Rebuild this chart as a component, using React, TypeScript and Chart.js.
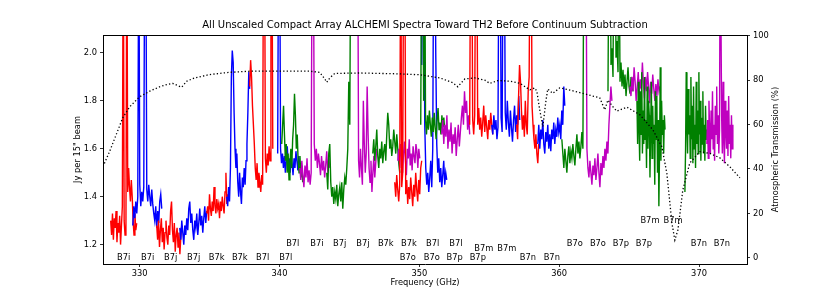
import React, { useEffect, useRef } from "react";
import { Chart, registerables } from "chart.js";

Chart.register(...registerables);

// ---------- DATA ----------
const TITLE = "All Unscaled Compact Array ALCHEMI Spectra Toward TH2 Before Continuum Subtraction";
const X_TITLE = "Frequency (GHz)";
const Y_TITLE = "Jy per 15\" beam";
const Y2_TITLE = "Atmospheric Transmission (%)";

const xTicks = [330, 340, 350, 360, 370];
const yTicks = [1.2, 1.4, 1.6, 1.8, 2.0];
const y2Ticks = [0, 20, 40, 60, 80, 100];

// spectral windows: [start GHz, end GHz]
const red1Range = [327.93, 329.79];
const red1 = [1.30,1.24,1.33,1.22,1.31,1.27,1.34,1.21,1.29,1.25,1.32,1.20,1.28,1.36,2.6,1.30,1.24,1.27,2.6,1.42,1.52,1.44,1.38,1.47,1.40,1.30,1.24,1.33,1.26,1.29];
const blue1Range = [329.51, 331.58];
const blue1 = [1.28,1.36,1.31,1.38,1.33,1.40,2.6,1.45,1.36,1.42,1.38,1.44,2.6,2.6,1.43,1.38,1.45,1.40,1.36,1.43,1.37,1.33,1.30,1.36,1.27,1.34,1.29,1.38,1.41,1.35];
const red2Range = [331.22, 333.01];
const red2 = [1.28,1.22,1.30,1.19,1.26,1.31,1.21,1.27,1.18,1.25,1.30,1.23,1.20,1.28,1.24,1.34,1.38,1.26,1.21,1.29,1.17,1.24,1.27,1.19,1.25,1.16,1.23,1.28];
const blue2Range = [332.87, 334.80];
const blue2 = [1.27,1.22,1.30,1.25,1.20,1.28,1.24,1.31,1.26,1.35,1.38,1.29,1.33,1.26,1.22,1.30,1.27,1.33,1.24,1.29,1.35,1.28,1.32,1.25,1.31,1.36,1.29,1.34];
const red3Range = [334.80, 336.30];
const red3 = [1.33,1.36,1.30,1.41,1.35,1.32,1.38,1.34,1.44,1.36,1.33,1.39,1.35,1.37,1.31,1.38,1.34,1.40,1.36,1.33,1.42,1.50,1.37,1.41];
const blue3Range = [336.23, 337.87];
const blue3 = [1.40,1.36,1.44,1.38,1.52,1.90,2.01,1.96,1.75,1.60,1.52,1.58,1.46,1.40,1.50,1.42,1.37,1.48,1.44,1.52,1.45,1.55,1.62,1.75,1.92,1.85];
const red4Range = [337.87, 339.52];
const red4 = [1.86,1.97,1.90,1.78,1.70,1.62,1.52,1.47,1.54,1.44,1.50,1.46,1.42,1.49,1.45,2.6,2.6,1.56,1.50,1.58,1.53,1.61,1.55,2.6,2.6,1.60];
const blue4Range = [339.87, 341.45];
const blue4 = [1.58,2.6,2.6,1.60,1.54,1.58,1.52,1.57,1.50,1.55,1.61,1.53,1.56,1.50,1.58,1.54,1.49,1.56,1.52,1.59,1.55,1.51,1.57,1.53];
const green1Range = [340.16, 341.66];
const green1 = [1.62,1.70,1.78,1.66,1.55,1.62,1.50,1.58,1.47,1.54,1.60,1.52,1.64,1.70,1.83,1.74,1.60,1.66,1.55,1.50,1.57,1.48,1.53,1.46];
const mag1Range = [341.45, 343.60];
const mag1 = [1.52,1.47,1.55,1.49,1.44,1.53,1.48,1.56,1.46,1.51,1.45,1.50,2.6,2.6,1.62,1.55,1.60,1.52,1.58,1.54,1.49,1.57,1.51,1.55,1.48,1.53,1.59,1.50,1.56,1.52];
const green2Range = [343.38, 345.17];
const green2 = [1.50,1.43,1.58,1.62,1.46,1.40,1.44,1.37,1.42,1.39,1.45,1.36,1.41,1.44,1.38,1.46,1.35,1.43,1.48,1.45,1.52,1.60,1.88,1.70,2.6,2.6];
const mag2Range = [345.52, 346.95];
const mag2 = [2.6,2.6,1.55,1.48,1.60,1.52,1.45,1.80,1.62,1.50,1.58,1.86,1.66,1.52,1.46,1.55,1.42,1.50,1.57,1.48,1.54,1.60];
const green3Range = [346.67, 348.60];
const green3 = [1.58,1.64,1.55,1.61,1.68,1.57,1.52,1.60,1.56,1.63,1.54,1.59,1.62,1.55,1.66,1.75,1.70,1.60,1.64,1.57,1.61,1.68,1.63,1.58,1.66,1.60,1.54,1.50];
const mag3Range = [348.46, 350.03];
const mag3 = [1.55,1.60,1.52,1.62,1.57,1.50,1.58,1.63,1.55,1.49,1.60,1.56,1.64,1.53,1.58,1.51,1.61,1.57,1.54,1.62,1.59,1.52,1.60,1.56];
const red5Range = [348.24, 350.17];
const red5 = [1.46,1.40,1.49,1.43,1.38,1.45,2.6,1.44,1.50,2.6,2.6,1.41,1.47,1.37,1.44,1.39,1.48,1.42,1.36,1.45,1.40,1.50,1.43,1.38,1.47,1.41,1.52,1.55];
const blue5Range = [350.03, 351.96];
const blue5 = [2.6,2.6,1.95,2.6,2.6,1.70,1.52,1.45,1.50,1.42,1.48,1.55,1.44,1.60,2.6,2.6,2.0,1.62,1.50,1.56,1.46,1.52,1.44,1.49,1.55,1.45,1.50,1.47];
const green4Range = [350.10, 351.82];
const green4 = [1.70,2.6,2.6,1.80,2.6,1.72,1.66,1.74,1.68,1.76,1.70,1.65,1.73,1.67,1.75,1.69,1.64,1.72,1.77,1.68,1.71,1.66,1.74,1.69,1.73,1.67];
const mag4Range = [351.60, 353.60];
const mag4 = [1.66,1.72,1.62,1.70,1.65,1.74,1.60,1.68,1.63,1.71,1.58,1.66,1.62,1.69,1.57,1.64,1.70,1.61,1.67,1.73,1.78,1.70,1.84,1.75,1.80,1.68,1.74,1.66];
const red6Range = [353.60, 355.25];
const red6 = [1.70,2.6,2.6,1.72,1.66,1.74,2.6,2.6,1.70,1.77,1.68,1.73,1.65,1.71,1.78,1.67,1.74,1.69,1.64,1.72,1.68,1.75,1.70,1.66];
const blue6Range = [355.18, 357.18];
const blue6 = [1.70,1.66,1.74,1.68,1.72,1.64,1.69,2.6,2.6,1.73,1.67,2.6,2.6,1.75,1.68,1.80,1.71,1.65,1.76,1.69,1.63,1.72,1.78,1.67,1.74,1.70,1.82,1.72];
const red7Range = [356.96, 358.54];
const red7 = [1.70,1.64,1.82,1.95,1.88,1.76,1.68,1.74,1.65,1.80,1.70,1.66,1.84,1.90,2.6,2.6,1.78,1.70,1.64,1.60,1.66,1.58,1.54,1.62];
const blue7Range = [358.47, 360.40];
const blue7 = [1.62,1.70,1.60,1.68,1.64,1.72,1.62,1.58,1.67,1.63,1.70,1.60,1.66,1.59,1.68,1.64,1.71,1.62,1.68,1.65,1.73,1.67,1.70,1.64,1.76,1.70,1.86,1.78];
const green5Range = [360.19, 361.84];
const green5 = [1.64,1.58,1.52,1.60,1.55,1.50,1.57,1.61,1.54,1.59,1.56,1.62,1.57,1.53,1.60,1.66,1.58,1.63,1.56,1.61,1.67,1.60,2.6,2.6];
const mag5Range = [361.84, 363.77];
const mag5 = [2.6,2.6,1.60,1.52,1.48,1.55,1.50,1.45,1.53,1.49,1.56,1.47,1.52,1.58,1.50,1.44,1.54,1.49,1.57,1.52,1.60,1.55,1.63,1.58,1.70,1.78,1.86,1.80];
const green6Range = [363.49, 365.28];
const green6 = [1.84,2.6,2.6,1.95,2.02,1.90,2.6,2.6,1.98,2.05,1.92,2.6,1.88,1.96,1.86,1.93,1.85,1.91,1.82,1.88,1.94,1.86,1.83,1.90,1.87,1.84];
const mag6Range = [365.06, 367.21];
const mag6 = [1.86,1.82,1.90,1.84,1.94,1.88,1.80,1.86,1.92,1.83,1.89,1.85,1.96,1.87,1.81,1.90,1.84,1.92,1.86,1.79,1.88,1.83,1.91,1.85,1.80,1.87,1.82,1.89,1.84,1.86];
const green7Range = [365.56, 367.57];
const green7 = [1.80,1.62,1.88,1.70,1.55,1.84,1.66,1.92,1.58,1.76,1.62,1.90,1.64,1.72,1.52,1.86,1.60,1.80,1.74,1.48,1.68,1.88,1.56,1.78,1.62,1.70,1.45,1.84,1.64,1.82,1.50,1.72,1.36,1.60,1.94,1.55,1.80,1.66,1.72,1.58,1.74,1.68];
const green8Range = [368.99, 370.56];
const green8 = [1.42,1.60,1.92,1.70,1.58,1.85,1.66,1.74,1.56,1.90,1.64,1.78,1.54,1.86,1.60,1.70,1.52,1.88,1.62,1.76,1.58,1.92,1.66,1.80,1.55,1.73,1.62,1.84,1.58,1.70,1.55,1.78,1.64,1.68];
const mag7Range = [370.56, 372.42];
const mag7 = [1.62,1.72,1.56,1.80,1.66,1.58,1.76,1.64,1.84,1.60,1.70,1.55,1.78,1.66,1.86,1.62,1.74,1.58,1.68,2.6,2.6,1.74,1.58,1.88,1.64,1.54,1.80,1.68,1.60,1.76,1.57,1.82,1.62,1.70,1.56,1.74,1.60,1.70];

// atmospheric transmission (%)
const transFreq = [327.38,327.86,328.36,328.79,329.29,330.0,330.72,331.44,331.94,332.37,332.73,333.01,333.37,333.94,335.01,336.44,337.87,340.02,342.17,342.88,343.24,343.38,343.60,343.95,345.74,348.60,350.03,351.46,352.39,352.75,353.25,353.97,354.68,355.04,355.61,356.47,357.18,357.90,358.25,358.40,358.61,358.83,359.04,359.18,359.54,360.04,360.76,361.69,362.90,363.26,363.48,363.84,364.12,364.84,365.77,366.70,367.34,367.70,368.06,368.27,368.49,368.84,369.34,370.06,370.77,371.49,372.20,372.92];
const transPct = [41,48,56,63,68,72.5,75,77,78,78.5,77.5,76.8,79.5,81,82.5,83.5,84,84,84,83.5,80.5,79,81,83,83.2,82.8,82.4,81,78.8,77,80.5,81,80,78.5,79.8,79.5,78.6,75.6,76.5,75,66.6,59,70,76,74,76.5,75.5,74,72,66.6,71,68,66,67.8,64.4,57.6,50,38,15.6,8,12.5,30.5,42.7,47.8,47,45,41,36];

// window labels
const labelTexts = ["B7i","B7i","B7j","B7j","B7k","B7k","B7l","B7l",
  "B7o","B7o","B7p","B7p","B7n","B7n",
  "B7l","B7i","B7j","B7j","B7k","B7k","B7l","B7l",
  "B7o","B7o","B7p","B7p","B7n","B7n",
  "B7m","B7m","B7m","B7m"];
const labelFreqs = [328.86,330.58,332.22,333.87,335.51,337.16,338.80,340.45,
  349.17,350.89,352.53,354.18,357.76,359.47,
  340.95,342.67,344.31,345.96,347.60,349.25,350.96,352.61,
  361.12,362.77,364.41,366.06,369.99,371.64,
  354.61,356.26,366.49,368.14];
const labelLevels = [1.145,1.145,1.145,1.145,1.145,1.145,1.145,1.145,
  1.145,1.145,1.145,1.145,1.145,1.145,
  1.205,1.205,1.205,1.205,1.205,1.205,1.205,1.205,
  1.205,1.205,1.205,1.205,1.205,1.205,
  1.181,1.181,1.300,1.300];

// ---------- BUILD ----------
const RED = "#ff0000", BLUE = "#0000ff", GREEN = "#008000", MAG = "#bf00bf";
const segments: [number[], number[], string][] = [
  [red1Range, red1, RED], [blue1Range, blue1, BLUE], [red2Range, red2, RED], [blue2Range, blue2, BLUE],
  [red3Range, red3, RED], [blue3Range, blue3, BLUE], [red4Range, red4, RED], [blue4Range, blue4, BLUE],
  [green1Range, green1, GREEN], [mag1Range, mag1, MAG], [green2Range, green2, GREEN], [mag2Range, mag2, MAG],
  [green3Range, green3, GREEN], [mag3Range, mag3, MAG], [red5Range, red5, RED], [blue5Range, blue5, BLUE],
  [green4Range, green4, GREEN], [mag4Range, mag4, MAG], [red6Range, red6, RED], [blue6Range, blue6, BLUE],
  [red7Range, red7, RED], [blue7Range, blue7, BLUE], [green5Range, green5, GREEN], [mag5Range, mag5, MAG],
  [green6Range, green6, GREEN], [mag6Range, mag6, MAG], [green7Range, green7, GREEN], [green8Range, green8, GREEN],
  [mag7Range, mag7, MAG],
];

const FONT = '"DejaVu Sans", sans-serif';
const FS = 8.3;

const overlay = {
  id: "overlay",
  afterDatasetsDraw(chart: any) {
    const { ctx, chartArea: ca, scales } = chart;
    const xs = scales.x, ys = scales.y;
    ctx.save();
    ctx.strokeStyle = "#000";
    ctx.lineWidth = 1;
    ctx.beginPath();
    ctx.moveTo(ca.left, ca.top + 0.5);
    ctx.lineTo(ca.right, ca.top + 0.5);
    ctx.stroke();
    ctx.fillStyle = "#000";
    ctx.textAlign = "center";
    ctx.textBaseline = "middle";
    ctx.font = `${FS}px ${FONT}`;
    for (let i = 0; i < labelTexts.length; i++) {
      ctx.fillText(labelTexts[i], xs.getPixelForValue(labelFreqs[i]), ys.getPixelForValue(labelLevels[i]));
    }
    ctx.fillText(X_TITLE, (ca.left + ca.right) / 2, 283);
    const cy = (ca.top + ca.bottom) / 2;
    ctx.save();
    ctx.translate(78, cy);
    ctx.rotate(-Math.PI / 2);
    ctx.fillText(Y_TITLE, 0, 0);
    ctx.restore();
    ctx.save();
    ctx.translate(776, cy);
    ctx.rotate(-Math.PI / 2);
    ctx.fillText(Y2_TITLE, 0, 0);
    ctx.restore();
    ctx.font = `10px ${FONT}`;
    ctx.fillText(TITLE, (ca.left + ca.right) / 2, 25);
    ctx.restore();
  },
};

export default function App() {
  const ref = useRef<HTMLCanvasElement>(null);
  useEffect(() => {
    if (!ref.current) return;
    const n = segments.length;
    const datasets: any[] = segments.map(([rng, vals, color], i) => ({
      data: vals.map((v, j) => ({ x: rng[0] + ((rng[1] - rng[0]) * j) / (vals.length - 1), y: v })),
      borderColor: color,
      borderWidth: 1.4,
      pointRadius: 0,
      tension: 0,
      yAxisID: "y",
      order: n - i + 1,
    }));
    datasets.push({
      data: transFreq.map((f, i) => ({ x: f, y: transPct[i] })),
      borderColor: "#000",
      borderWidth: 1.3,
      borderDash: [1.3, 2.2],
      pointRadius: 0,
      tension: 0,
      yAxisID: "y2",
      order: 0,
    });
    const tickCommon = (ticks: number[]) => (scale: any) => {
      scale.ticks = ticks.map((v) => ({ value: v }));
    };
    const chart = new Chart(ref.current, {
      type: "line",
      data: { datasets },
      options: {
        animation: false,
        responsive: false,
        devicePixelRatio: 1,
        layout: { padding: { top: 35, left: 0, right: 0, bottom: 0 } },
        plugins: { legend: { display: false }, tooltip: { enabled: false }, title: { display: false } },
        scales: {
          x: {
            type: "linear",
            min: 327.38,
            max: 373.43,
            afterBuildTicks: tickCommon(xTicks),
            afterFit: (s: any) => { s.height = 33; },
            grid: { drawOnChartArea: false, color: "#000", tickLength: 3, lineWidth: 0.8 },
            border: { color: "#000", width: 1 },
            ticks: { color: "#000", font: { family: FONT, size: FS }, padding: 2, maxRotation: 0, callback: (v: any) => String(v) },
          },
          y: {
            type: "linear",
            position: "left",
            min: 1.119,
            max: 2.075,
            afterBuildTicks: tickCommon(yTicks),
            afterFit: (s: any) => { s.width = 103; },
            grid: { drawOnChartArea: false, color: "#000", tickLength: 3, lineWidth: 0.8 },
            border: { color: "#000", width: 1 },
            ticks: { color: "#000", font: { family: FONT, size: FS }, padding: 3, callback: (v: any) => Number(v).toFixed(1) },
          },
          y2: {
            type: "linear",
            position: "right",
            min: -2.8,
            max: 100.3,
            afterBuildTicks: tickCommon(y2Ticks),
            afterFit: (s: any) => { s.width = 83; },
            grid: { drawOnChartArea: false, color: "#000", tickLength: 3, lineWidth: 0.8 },
            border: { color: "#000", width: 1 },
            ticks: { color: "#000", font: { family: FONT, size: FS }, padding: 3, callback: (v: any) => String(v) },
          },
        },
      },
      plugins: [overlay],
    } as any);
    return () => chart.destroy();
  }, []);
  return (
    <div style={{ position: "fixed", left: 0, top: 0, width: 830, height: 297, background: "#fff" }}>
      <canvas ref={ref} width={830} height={297} />
    </div>
  );
}
